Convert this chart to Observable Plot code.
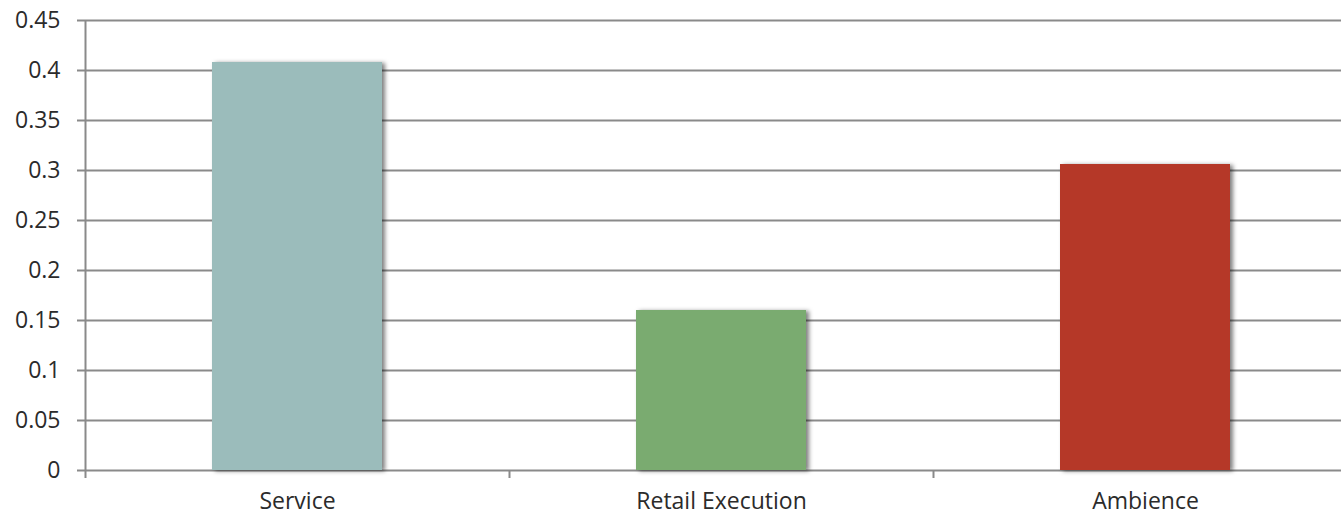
<!DOCTYPE html>
<html>
<head>
<meta charset="utf-8">
<script src="https://cdn.jsdelivr.net/npm/d3@7"></script>
<script src="https://cdn.jsdelivr.net/npm/@observablehq/plot@0.6"></script>
<style>
  html, body { margin: 0; padding: 0; background: #fff; overflow: hidden; }
  #chart svg [aria-label="bar"] rect { filter: drop-shadow(3px 1px 2px rgba(0,0,0,0.5)); }
</style>
</head>
<body>
<div id="chart"></div>
<script>
const categories = ["Service", "Retail Execution", "Ambience"];
const values = [0.408, 0.16, 0.306];
const colors = ["#9BBCBB", "#7AAB70", "#B53828"];
const yTicks = [0, 0.05, 0.1, 0.15, 0.2, 0.25, 0.3, 0.35, 0.4, 0.45];

const data = categories.map((c, i) => ({category: c, value: values[i]}));
const step = (1357 - 85) / categories.length;

const chart = Plot.plot({
  width: 1341,
  height: 515,
  marginLeft: 85,
  marginRight: 0,
  marginTop: 20,
  marginBottom: 45,
  style: {fontFamily: "'Open Sans', sans-serif", fontSize: "23px", color: "#2b2b2b", background: "#fff", overflow: "visible"},
  x: {domain: categories, range: [85, 1357], paddingInner: 0.6, paddingOuter: 0.3, tickSize: 0, tickPadding: 22, label: null},
  y: {domain: [0, 0.45], ticks: yTicks, tickFormat: d => String(d), tickSize: 0, tickPadding: 25, label: null},
  color: {domain: categories, range: colors},
  marks: [
    Plot.ruleY(yTicks, {y: d => d, stroke: "#8a8a8a", strokeWidth: 2, strokeOpacity: 1, insetLeft: -8}),
    Plot.barY(data, {x: "category", y: "value", fill: "category"}),
    Plot.ruleX(categories, {x: d => d, dx: -step / 2, y1: -0.008, y2: d => d === categories[0] ? 0.45 : 0, stroke: "#8a8a8a", strokeWidth: 2, strokeOpacity: 1})
  ]
});
document.getElementById("chart").appendChild(chart);
</script>
</body>
</html>
